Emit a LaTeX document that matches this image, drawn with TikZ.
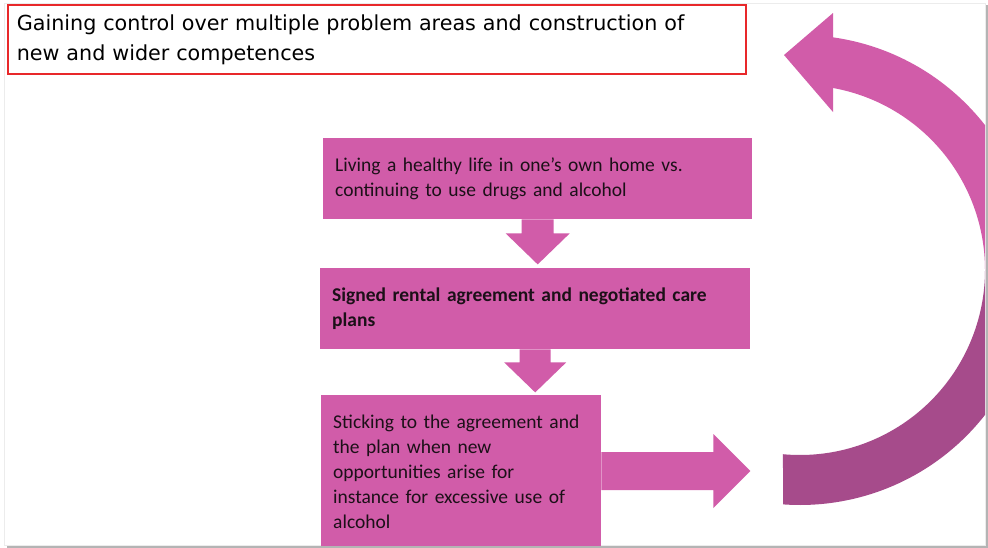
\documentclass[tikz,border=0pt]{standalone}
\usepackage{fontspec}
\setmainfont{Carlito}
\newfontfamily\topfont{DejaVu Sans}
\usetikzlibrary{calc}
\definecolor{pinkA}{HTML}{D15CA9}
\definecolor{pinkD}{HTML}{A64B8B}
\definecolor{redline}{HTML}{E8282A}
\definecolor{txt}{HTML}{1C1018}
\definecolor{shadowgray}{HTML}{B4B4B4}
\definecolor{framegray}{HTML}{ECECEC}
\begin{document}
\begin{tikzpicture}[x=1pt,y=1pt,
  pinkbox/.style={fill=pinkA, draw=none, anchor=north west, align=left,
    inner xsep=12pt, inner ysep=0pt, text=txt,
    font=\fontsize{19.5}{25}\selectfont},
  blockarrow/.style={fill=pinkA, draw=none}]
\useasboundingbox (0,0) rectangle (988,-547);
\fill[white] (0,0) rectangle (988,-547);
% frame with shadow
\draw[framegray, line width=1pt] (4,-3) rectangle (985,-545);
\draw[shadowgray, line width=2pt] (986.5,-5) -- (986.5,-546.5) -- (7,-546.5);
\begin{scope}
\clip (0,0) rectangle (985,-545);
% goal box
\node[draw=redline, line width=1.6pt, anchor=north west, minimum width=738pt,
  minimum height=69pt, text width=720pt, inner xsep=9pt, inner ysep=0pt,
  align=left, text=black, font=\topfont\fontsize{20.7}{30}\selectfont] (goal) at (7,-4)
  {Gaining control over multiple problem areas and construction of\\new and wider competences};
% boxes
\node[pinkbox, minimum width=429pt, minimum height=81pt, text width=405pt] (b1) at (323,-138)
  {Living a healthy life in one’s own home vs.\\continuing to use drugs and alcohol};
\node[pinkbox, minimum width=430pt, minimum height=81pt, text width=406pt,
  font=\bfseries\fontsize{19.5}{25}\selectfont] (b2) at (320,-268)
  {Signed rental agreement and negotiated care\\plans};
\node[pinkbox, minimum width=280pt, minimum height=154pt, text width=256pt] (b3) at (321,-395)
  {Sticking to the agreement and\\the plan when new\\opportunities arise for\\instance for excessive use of\\alcohol};
% down arrow 1
\fill[blockarrow] ($(b1.south)+(-16,0)$) -- ++(0,-14) -- ++(-16,0)
  -- ($(b1.south)+(0,-45)$) -- ($(b1.south)+(32,-14)$) -- ++(-16,0)
  -- ($(b1.south)+(16,0)$) -- cycle;
% down arrow 2
\fill[blockarrow] ($(b2.south)+(-15.5,0)$) -- ++(0,-13) -- ++(-15.5,0)
  -- ($(b2.south)+(0,-43)$) -- ($(b2.south)+(31,-13)$) -- ++(-15.5,0)
  -- ($(b2.south)+(15.5,0)$) -- cycle;
% right arrow
\coordinate (ra) at ($(b3.north east)+(0,-76)$);
\fill[blockarrow] ($(ra)+(0,19)$) -- ++(112,0) -- ($(ra)+(112,37)$)
  -- ($(ra)+(149,0)$) -- ($(ra)+(112,-37)$) -- ($(ra)+(112,-19)$)
  -- ($(ra)+(0,-19)$) -- cycle;
% curved return arrow
\coordinate (C) at (800,-270);
\fill[pinkA] ($(C)+(81.9:235pt)$) arc[start angle=81.9, end angle=0, radius=235pt]
  -- ($(C)+(0:185pt)$) arc[start angle=0, end angle=79.7, radius=185pt] -- cycle;
\fill[pinkA] (833,-13) -- (784,-55) -- (833,-112) -- cycle;
\fill[pinkD] ($(C)+(0:235pt)$) arc[start angle=0, end angle=-94.1, radius=235pt]
  -- ($(C)+(-95.3:185pt)$) arc[start angle=-95.3, end angle=0, radius=185pt] -- cycle;
\end{scope}
\end{tikzpicture}
\end{document}
